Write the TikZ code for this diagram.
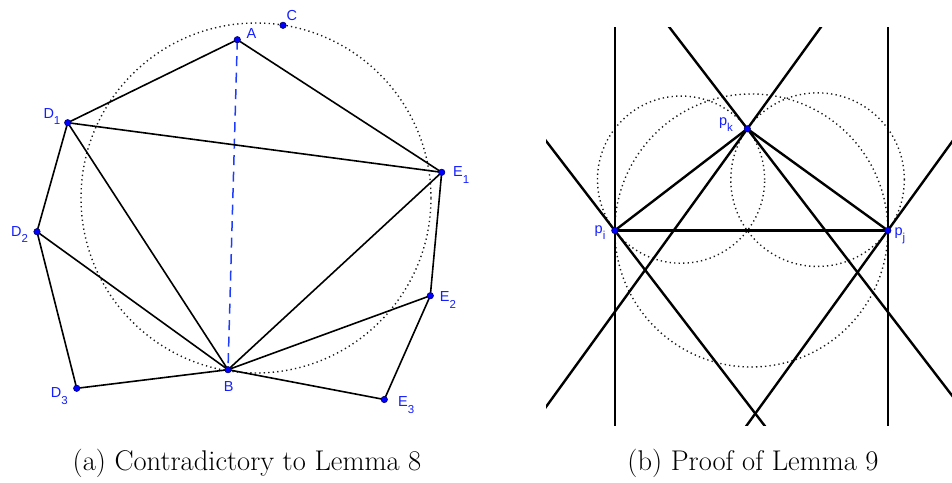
\documentclass[tikz,border=0pt]{standalone}
\usepackage{fontspec}
\newfontfamily\labfont{Liberation Sans}
\usetikzlibrary{calc}
\definecolor{ptfill}{RGB}{0,0,255}
\definecolor{ptline}{RGB}{0,0,110}
\definecolor{labblue}{RGB}{20,30,255}
\definecolor{dashblue}{RGB}{30,60,255}
\newcommand{\lsub}[1]{\raisebox{-6.5pt}{\fontsize{11.5}{11.5}\selectfont #1}}
\tikzset{
  pt/.style={circle,fill=ptfill,draw=ptline,line width=0.6pt,inner sep=0pt,minimum size=6.4pt},
  lab/.style={anchor=base west,inner sep=0pt,text=labblue,font=\labfont\fontsize{14.5}{14.5}\selectfont},
  edge/.style={line width=1.6pt,black,shorten <=-1pt,shorten >=-1pt},
  slab/.style={line width=2.4pt,black},
  dotc/.style={line width=1.4pt,dash pattern=on 1.3pt off 3.2pt,black!90},
  capt/.style={anchor=base,inner sep=0pt,font=\fontsize{28.5}{32}\selectfont}
}
\begin{document}
\begin{tikzpicture}[x=1pt,y=-1pt]
\useasboundingbox (0,0) rectangle (952,482);
% ---------- panel (a) ----------
\node[circle,minimum size=350pt,inner sep=0pt] (circA) at (256,198) {};
\draw[dotc] (circA.center) circle[radius=175pt];
\coordinate (cA) at (237.3,39.7);
\coordinate (cC) at (283,25.3);
\coordinate (cD1) at (67.7,122.7);
\coordinate (cE1) at (441.7,172.3);
\coordinate (cD2) at (37,231.7);
\coordinate (cB) at (228,369.7);
\coordinate (cE2) at (430.3,295.7);
\coordinate (cD3) at (76.7,388.3);
\coordinate (cE3) at (384.3,399.5);
\draw[line width=1.5pt,dashblue,dash pattern=on 10pt off 6.5pt] (cA) -- (cB);
\draw[edge] (cA) -- (cD1);
\draw[edge] (cA) -- (cE1);
\draw[edge] (cD1) -- (cE1);
\draw[edge] (cD1) -- (cD2);
\draw[edge] (cD1) -- (cB);
\draw[edge] (cD2) -- (cB);
\draw[edge] (cD2) -- (cD3);
\draw[edge] (cD3) -- (cB);
\draw[edge] (cB) -- (cE1);
\draw[edge] (cB) -- (cE2);
\draw[edge] (cB) -- (cE3);
\draw[edge] (cE1) -- (cE2);
\draw[edge] (cE2) -- (cE3);
\foreach \p in {cA,cC,cD1,cE1,cD2,cB,cE2,cD3,cE3} \node[pt] (n\p) at (\p) {};
\node[lab] (lA) at (246.5,38.7) {A};
\node[lab] (lC) at (286.5,20) {C};
\node[lab] (lD1) at (43.3,118.3) {D\lsub{1}};
\node[lab] (lE1) at (453,176.7) {E\lsub{1}};
\node[lab] (lD2) at (11,236) {D\lsub{2}};
\node[lab] (lE2) at (439.7,301.7) {E\lsub{2}};
\node[lab] (lB) at (223.7,391) {B};
\node[lab] (lD3) at (50.7,397.7) {D\lsub{3}};
\node[lab] (lE3) at (398,406.7) {E\lsub{3}};
\node[capt] (capA) at (247,470) {(a) Contradictory to Lemma 8};
% ---------- panel (b) ----------
\coordinate (pi) at (614.8,230.5);
\coordinate (pj) at (887.8,230.5);
\coordinate (pk) at (747.3,128.8);
\draw[dotc] ($(pi)!0.5!(pj)$) circle[radius=136.5pt];
\draw[dotc] ($(pi)!0.5!(pk)$) circle[radius=83.6pt];
\draw[dotc] ($(pk)!0.5!(pj)$) circle[radius=86.8pt];
\begin{scope}
\clip (546,27) rectangle (952,425);
\draw[slab] ($(pi)!-4!90:(pj)$) -- ($(pi)!4!90:(pj)$);
\draw[slab] ($(pj)!-4!90:(pi)$) -- ($(pj)!4!90:(pi)$);
\draw[slab] ($(pi)!-4!90:(pk)$) -- ($(pi)!4!90:(pk)$);
\draw[slab] ($(pk)!-4!90:(pi)$) -- ($(pk)!4!90:(pi)$);
\draw[slab] ($(pk)!-4!90:(pj)$) -- ($(pk)!4!90:(pj)$);
\draw[slab] ($(pj)!-4!90:(pk)$) -- ($(pj)!4!90:(pk)$);
\end{scope}
\draw[slab] (pi) -- (pj);
\draw[slab] (pi) -- (pk);
\draw[slab] (pk) -- (pj);
\node[pt] (npi) at (pi) {};
\node[pt] (npj) at (pj) {};
\node[pt] (npk) at (pk) {};
\node[lab] (lpi) at (594.5,233.3) {p\lsub{i}};
\node[lab] (lpj) at (894.3,235) {p\lsub{j}};
\node[lab] (lpk) at (718.8,125) {p\lsub{k}};
\node[capt] (capB) at (753,470) {(b) Proof of Lemma 9};
\end{tikzpicture}
\end{document}
